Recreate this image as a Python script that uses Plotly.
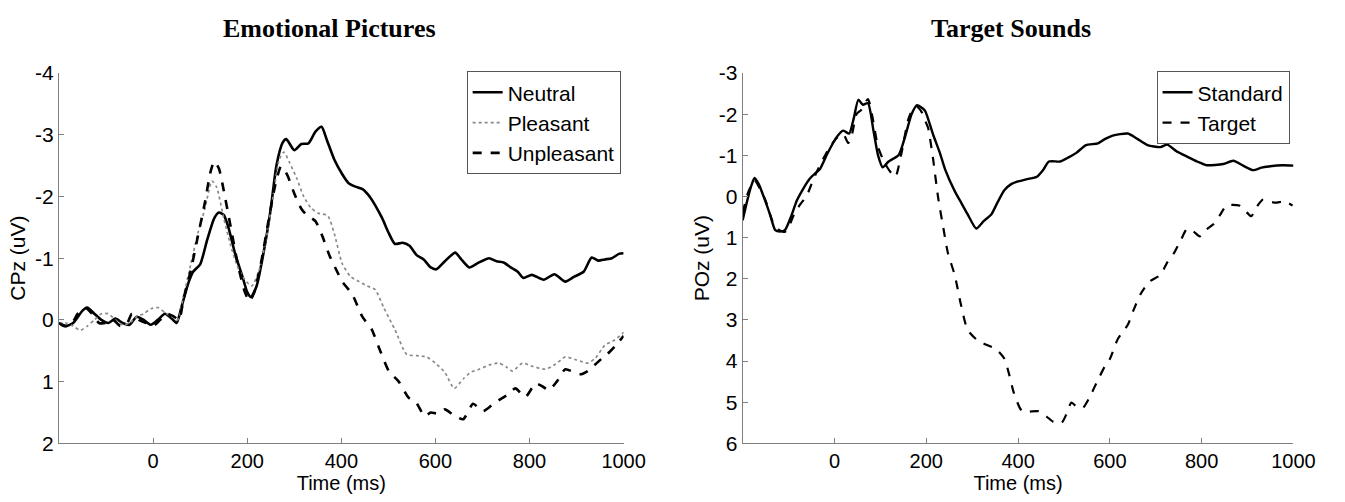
import plotly.graph_objects as go

# ---------------- Data: Emotional Pictures (CPz) ----------------
neutral_t = [-200, -185, -170, -150, -140, -125, -110, -95, -80, -65, -50, -35, -20, -5, 10, 25, 40, 50,
             60, 75, 85, 100, 115, 130, 140, 150, 160, 175, 190, 200, 208, 220, 235, 250, 262, 275, 283,
             300, 315, 330, 345, 358, 370, 385, 402, 415, 430, 445, 460, 486, 500, 514, 530, 545, 560,
             575, 590, 602, 620, 642, 655, 672, 690, 714, 730, 745, 760, 775, 787, 805, 830, 853, 876,
             895, 915, 932, 946, 960, 975, 990, 1000]
neutral_v = [0.05, 0.1, 0.05, -0.15, -0.2, -0.1, 0.0, 0.05, -0.02, 0.05, 0.08, -0.05, 0.0, 0.08, 0.0, -0.1,
             -0.02, 0.05, -0.2, -0.6, -0.78, -0.9, -1.3, -1.65, -1.74, -1.7, -1.5, -1.05, -0.7, -0.45,
             -0.37, -0.55, -1.1, -1.8, -2.5, -2.87, -2.93, -2.75, -2.85, -2.86, -3.05, -3.13, -2.9, -2.6,
             -2.36, -2.22, -2.16, -2.12, -2.0, -1.66, -1.42, -1.23, -1.25, -1.2, -1.05, -0.98, -0.85,
             -0.82, -0.95, -1.09, -0.98, -0.85, -0.92, -1.0, -0.95, -0.93, -0.85, -0.78, -0.68, -0.73,
             -0.65, -0.74, -0.62, -0.7, -0.78, -1.01, -0.96, -0.98, -1.0, -1.07, -1.08]

pleasant_t = [-200, -185, -170, -155, -140, -125, -110, -95, -80, -65, -50, -35, -20, -5, 10, 25, 40, 52,
              65, 80, 95, 110, 125, 135, 150, 165, 180, 195, 210, 225, 240, 255, 268, 278, 290, 305, 320,
              335, 350, 371, 385, 402, 420, 438, 455, 472, 490, 514, 539, 560, 581, 600, 620, 640, 660,
              675, 693, 715, 735, 750, 764, 785, 805, 834, 855, 876, 900, 924, 940, 960, 980, 996, 1000]
pleasant_v = [0.05, 0.05, 0.1, 0.17, 0.1, 0.0, -0.1, -0.1, 0.0, 0.08, 0.05, -0.05, -0.1, -0.18, -0.2,
              -0.12, -0.05, 0.0, -0.4, -0.9, -1.4, -1.8, -2.25, -2.15, -1.65, -1.2, -0.85, -0.65, -0.55,
              -0.8, -1.3, -2.0, -2.6, -2.72, -2.55, -2.3, -2.0, -1.82, -1.73, -1.69, -1.4, -0.91, -0.7,
              -0.62, -0.55, -0.49, -0.2, 0.16, 0.56, 0.58, 0.6, 0.7, 0.85, 1.11, 0.95, 0.85, 0.8, 0.73,
              0.7, 0.76, 0.83, 0.7, 0.75, 0.8, 0.72, 0.6, 0.65, 0.7, 0.62, 0.41, 0.33, 0.23, 0.2]

unpleasant_t = [-200, -190, -175, -160, -145, -130, -115, -100, -85, -70, -55, -45, -30, -15, 0, 15, 30,
                45, 55, 65, 80, 95, 110, 122, 130, 140, 150, 165, 180, 195, 205, 215, 230, 245, 260, 272,
                285, 300, 315, 325, 345, 360, 375, 390, 402, 423, 444, 465, 480, 501, 522, 543, 560, 577,
                590, 605, 620, 640, 659, 680, 701, 720, 735, 752, 770, 791, 813, 828, 841, 858, 876, 895,
                910, 924, 940, 953, 970, 985, 1000]
unpleasant_v = [0.05, 0.1, 0.08, -0.1, -0.2, -0.1, 0.05, 0.05, 0.0, 0.1, 0.05, -0.1, 0.0, 0.05, 0.1, 0.0,
                -0.1, -0.05, 0.0, -0.35, -0.8, -1.35, -1.9, -2.4, -2.57, -2.45, -2.1, -1.5, -0.9, -0.45,
                -0.3, -0.45, -0.95, -1.6, -2.2, -2.49, -2.35, -2.05, -1.8, -1.71, -1.6, -1.35, -1.04, -0.8,
                -0.62, -0.42, -0.06, 0.16, 0.45, 0.83, 1.0, 1.26, 1.35, 1.56, 1.5, 1.52, 1.45, 1.55, 1.61,
                1.36, 1.48, 1.38, 1.3, 1.22, 1.11, 1.25, 1.03, 1.08, 1.14, 1.0, 0.8, 0.85, 0.88, 0.83,
                0.72, 0.63, 0.52, 0.4, 0.26]

# ---------------- Data: Target Sounds (POz) ----------------
standard_t = [-200, -190, -180, -174, -165, -153, -140, -129, -118, -108, -95, -82, -70, -54, -40, -32,
              -15, 4, 19, 32, 42, 52, 62, 73, 85, 95, 105, 118, 140, 155, 168, 180, 191, 198, 215, 230,
              241, 262, 276, 290, 309, 325, 342, 355, 370, 385, 398, 420, 441, 455, 467, 492, 510, 527,
              548, 574, 590, 606, 639, 660, 682, 710, 725, 745, 768, 790, 811, 847, 869, 890, 912, 930,
              946, 976, 1000]
standard_v = [0.58, 0.1, -0.3, -0.45, -0.3, 0.04, 0.45, 0.82, 0.85, 0.82, 0.5, 0.1, -0.15, -0.43, -0.58,
              -0.66, -1.05, -1.43, -1.6, -1.53, -1.9, -2.35, -2.23, -2.27, -1.6, -1.0, -0.71, -0.85,
              -1.01, -1.5, -2.0, -2.22, -2.15, -2.07, -1.5, -1.05, -0.66, -0.13, 0.15, 0.43, 0.78, 0.6,
              0.43, 0.15, -0.15, -0.3, -0.36, -0.42, -0.48, -0.65, -0.85, -0.85, -0.95, -1.06, -1.25,
              -1.29, -1.4, -1.48, -1.53, -1.4, -1.25, -1.2, -1.26, -1.1, -0.97, -0.85, -0.76, -0.79,
              -0.87, -0.75, -0.64, -0.7, -0.73, -0.76, -0.75]

target_t = [-200, -188, -174, -163, -150, -135, -120, -108, -98, -88, -75, -60, -50, -39, -25, -10, 5, 19,
            30, 38, 48, 58, 73, 85, 95, 110, 125, 133, 145, 161, 172, 180, 190, 198, 204, 215, 226, 237,
            247, 262, 275, 290, 312, 330, 352, 370, 380, 391, 409, 445, 462, 477, 495, 505, 516, 530, 542,
            555, 570, 589, 600, 617, 639, 652, 667, 686, 710, 725, 740, 755, 768, 782, 796, 811, 826, 840,
            854, 882, 895, 908, 920, 933, 947, 961, 980, 998]
target_v = [0.4, -0.1, -0.4, -0.2, 0.1, 0.6, 0.82, 0.86, 0.7, 0.43, 0.2, -0.03, -0.3, -0.59, -0.9, -1.2,
            -1.42, -1.52, -1.3, -1.5, -2.0, -2.1, -2.37, -1.8, -1.2, -0.8, -0.55, -0.48, -1.0, -1.88,
            -2.15, -2.18, -2.05, -1.83, -1.67, -0.9, 0.04, 0.75, 1.37, 1.91, 2.6, 3.24, 3.5, 3.6, 3.71,
            3.94, 4.3, 4.78, 5.22, 5.22, 5.35, 5.48, 5.5, 5.3, 5.01, 5.13, 5.13, 4.9, 4.55, 4.13, 3.95,
            3.47, 3.12, 2.75, 2.37, 2.07, 1.91, 1.6, 1.37, 1.05, 0.79, 0.85, 0.97, 0.8, 0.67, 0.45, 0.22,
            0.22, 0.35, 0.48, 0.25, 0.08, 0.12, 0.15, 0.12, 0.22]

x_ticks = [0, 200, 400, 600, 800, 1000]
left_y_ticks = [-4, -3, -2, -1, 0, 1, 2]
right_y_ticks = [-3, -2, -1, 0, 1, 2, 3, 4, 5, 6]

SANS = "Liberation Sans, Arial, sans-serif"
SERIF = "Liberation Serif, Times New Roman, serif"
FS = 21
XFS = 20

fig = go.Figure()

fig.add_trace(go.Scatter(x=neutral_t, y=neutral_v, name="Neutral", mode="lines",
                         line=dict(color="black", width=2.6, shape="spline", smoothing=0.6),
                         xaxis="x", yaxis="y", legend="legend"))
fig.add_trace(go.Scatter(x=pleasant_t, y=pleasant_v, name="Pleasant", mode="lines",
                         line=dict(color="#8a8a8a", width=1.7, dash="dot", shape="spline", smoothing=0.6),
                         xaxis="x", yaxis="y", legend="legend"))
fig.add_trace(go.Scatter(x=unpleasant_t, y=unpleasant_v, name="Unpleasant", mode="lines",
                         line=dict(color="black", width=2.6, dash="dash", shape="spline", smoothing=0.6),
                         xaxis="x", yaxis="y", legend="legend"))
fig.add_trace(go.Scatter(x=standard_t, y=standard_v, name="Standard", mode="lines",
                         line=dict(color="black", width=2.4, shape="spline", smoothing=0.6),
                         xaxis="x2", yaxis="y2", legend="legend2"))
fig.add_trace(go.Scatter(x=target_t, y=target_v, name="Target", mode="lines",
                         line=dict(color="black", width=2.2, dash="dash", shape="spline", smoothing=0.6),
                         xaxis="x2", yaxis="y2", legend="legend2"))

W, H = 1345, 502
xd1 = [60 / W, 634 / W]
xd2 = [755 / W, 1315 / W]
yd = [1 - 452 / H, 1 - 64 / H]

axis_common = dict(showline=True, linecolor="#7f7f7f", linewidth=1.2, ticks="inside", ticklen=5,
                   tickcolor="#7f7f7f", showgrid=False, zeroline=False, mirror=False)

def lab(vals):
    return [str(v) for v in vals]

legend_common = dict(xanchor="right", yanchor="top", bgcolor="white", bordercolor="#555555",
                     borderwidth=1, font=dict(family=SANS, size=FS, color="black"),
                     itemwidth=30, tracegroupgap=0)

xtitle = dict(text="Time (ms)", font=dict(family=SANS, size=XFS, color="black"), standoff=0)
xtick_font = dict(family=SANS, size=XFS, color="black")
ytick_font = dict(family=SANS, size=FS, color="black")

fig.update_layout(
    width=W, height=H,
    margin=dict(l=0, r=0, t=0, b=0),
    paper_bgcolor="white", plot_bgcolor="white",
    xaxis=dict(domain=xd1, range=[-200, 1000], tickvals=x_ticks, ticktext=lab(x_ticks), anchor="y",
               title=xtitle, tickfont=xtick_font, **axis_common),
    yaxis=dict(domain=yd, range=[2, -4], tickvals=left_y_ticks, ticktext=lab(left_y_ticks), anchor="x",
               title=dict(text="CPz (uV)", font=dict(family=SANS, size=FS, color="black"), standoff=3),
               tickfont=ytick_font, **axis_common),
    xaxis2=dict(domain=xd2, range=[-200, 1000], tickvals=x_ticks, ticktext=lab(x_ticks), anchor="y2",
                title=xtitle, tickfont=xtick_font, **axis_common),
    yaxis2=dict(domain=yd, range=[6, -3], tickvals=right_y_ticks, ticktext=lab(right_y_ticks), anchor="x2",
                title=dict(text="POz (uV)", font=dict(family=SANS, size=FS, color="black"), standoff=3),
                tickfont=ytick_font, **axis_common),
    legend=dict(x=631 / W, y=1 - 62 / H, **legend_common),
    legend2=dict(x=1311 / W, y=1 - 62 / H, **legend_common),
    showlegend=True,
    annotations=[
        dict(text="<b>Emotional Pictures</b>", x=335 / W, y=1 - 17 / H, xref="paper", yref="paper",
             showarrow=False, xanchor="center", yanchor="middle",
             font=dict(family=SERIF, size=26, color="black")),
        dict(text="<b>Target Sounds</b>", x=1028 / W, y=1 - 17 / H, xref="paper", yref="paper",
             showarrow=False, xanchor="center", yanchor="middle",
             font=dict(family=SERIF, size=26, color="black")),
    ],
)

fig.write_html("out.html", config={"displayModeBar": False},
               post_script="document.body.style.margin='0';document.body.style.overflow='hidden';")
